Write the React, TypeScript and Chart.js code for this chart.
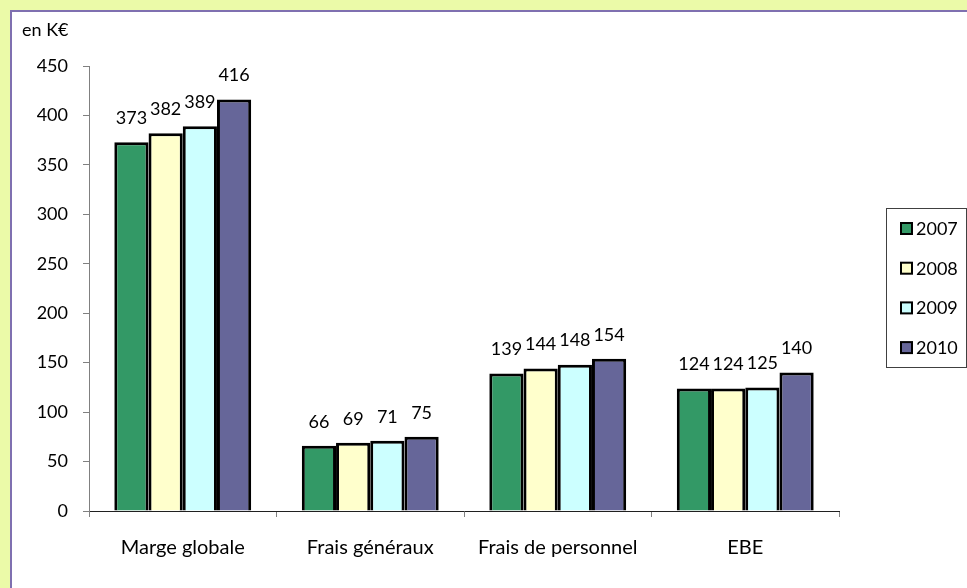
import React, { useEffect, useRef } from "react";
import { Chart, registerables } from "chart.js";

Chart.register(...registerables);

const categories = ["Marge globale", "Frais généraux", "Frais de personnel", "EBE"];
const years = ["2007", "2008", "2009", "2010"];
const v2007 = [373, 66, 139, 124];
const v2008 = [382, 69, 144, 124];
const v2009 = [389, 71, 148, 125];
const v2010 = [416, 75, 154, 140];
const seriesValues = [v2007, v2008, v2009, v2010];
const seriesColors = ["#339966", "#FFFFCC", "#CCFFFF", "#666699"];
const yMin = 0;
const yMax = 450;
const yStep = 50;
const unitLabel = "en K€";

const FONT = "Lato, 'Open Sans', sans-serif";

const backgroundPlugin = {
  id: "bgFrame",
  beforeDraw(chart: any) {
    const { ctx, width, height } = chart;
    ctx.save();
    ctx.fillStyle = "#EBFAA8";
    ctx.fillRect(0, 0, width, height);
    ctx.fillStyle = "#FFFFFF";
    ctx.fillRect(11, 11, width - 11, height - 11);
    ctx.fillStyle = "#7F70B0";
    ctx.fillRect(10, 10, 2, height - 10);
    ctx.fillRect(10, 10, width - 10, 2);
    ctx.fillStyle = "#000000";
    ctx.font = `18px ${FONT}`;
    ctx.textBaseline = "middle";
    ctx.textAlign = "left";
    ctx.fillText(unitLabel, 22, 30);
    ctx.restore();
  },
};

const labelsPlugin = {
  id: "barLabels",
  afterDatasetsDraw(chart: any) {
    const { ctx } = chart;
    ctx.save();
    ctx.fillStyle = "#000000";
    ctx.font = `18px ${FONT}`;
    ctx.textAlign = "center";
    ctx.textBaseline = "middle";
    chart.data.datasets.forEach((ds: any, di: number) => {
      const meta = chart.getDatasetMeta(di);
      meta.data.forEach((el: any, i: number) => {
        ctx.fillText(String(ds.data[i]), el.x, el.y - 24);
      });
    });
    ctx.restore();
  },
};

const legendPlugin = {
  id: "boxLegend",
  afterDraw(chart: any) {
    const { ctx } = chart;
    const left = 886.5;
    const top = 208.5;
    const right = 966.5;
    const bottom = 367.5;
    ctx.save();
    ctx.strokeStyle = "#404040";
    ctx.lineWidth = 1;
    ctx.strokeRect(left, top, right - left, bottom - top);
    ctx.font = `18px ${FONT}`;
    ctx.textBaseline = "middle";
    ctx.textAlign = "left";
    chart.data.datasets.forEach((ds: any, i: number) => {
      const cy = 228 + i * 39.7;
      ctx.fillStyle = ds.backgroundColor;
      ctx.fillRect(901, cy - 5, 11, 11);
      ctx.strokeStyle = "#000000";
      ctx.lineWidth = 2;
      ctx.strokeRect(901, cy - 5, 11, 11);
      ctx.fillStyle = "#000000";
      ctx.fillText(ds.label, 916, cy + 1);
    });
    ctx.restore();
  },
};

export default function App() {
  const ref = useRef<HTMLCanvasElement | null>(null);
  useEffect(() => {
    if (!ref.current) return;
    const chart = new Chart(ref.current, {
      type: "bar",
      data: {
        labels: categories,
        datasets: years.map((y, i) => ({
          label: y,
          data: seriesValues[i],
          backgroundColor: seriesColors[i],
          borderColor: "#000000",
          borderWidth: 3,
          barPercentage: 1,
          categoryPercentage: 0.73,
        })),
      },
      options: {
        responsive: false,
        animation: false,
        layout: { padding: { top: 66, right: 128, bottom: 0, left: 0 } },
        plugins: {
          legend: { display: false },
          tooltip: { enabled: false },
          title: { display: false },
        },
        scales: {
          x: {
            grid: {
              display: true,
              drawOnChartArea: false,
              drawTicks: true,
              tickLength: 6,
              color: "#808080",
              offset: true,
            },
            border: { display: true, color: "#202020", width: 1 },
            ticks: {
              color: "#000000",
              font: { family: FONT, size: 20 },
              padding: 19,
              maxRotation: 0,
            },
            afterFit: (scale: any) => {
              scale.height = 77;
            },
          },
          y: {
            min: yMin,
            max: yMax,
            grid: {
              display: true,
              drawOnChartArea: false,
              drawTicks: true,
              tickLength: 6,
              color: "#808080",
            },
            border: { display: true, color: "#808080", width: 1 },
            ticks: {
              stepSize: yStep,
              color: "#000000",
              font: { family: FONT, size: 18 },
              padding: 15,
            },
            afterFit: (scale: any) => {
              scale.width = 89;
            },
          },
        },
      },
      plugins: [backgroundPlugin, labelsPlugin, legendPlugin],
    });
    return () => chart.destroy();
  }, []);
  return (
    <div style={{ position: "fixed", left: 0, top: 0, width: 967, height: 588 }}>
      <canvas ref={ref} width={967} height={588} style={{ display: "block" }} />
    </div>
  );
}
